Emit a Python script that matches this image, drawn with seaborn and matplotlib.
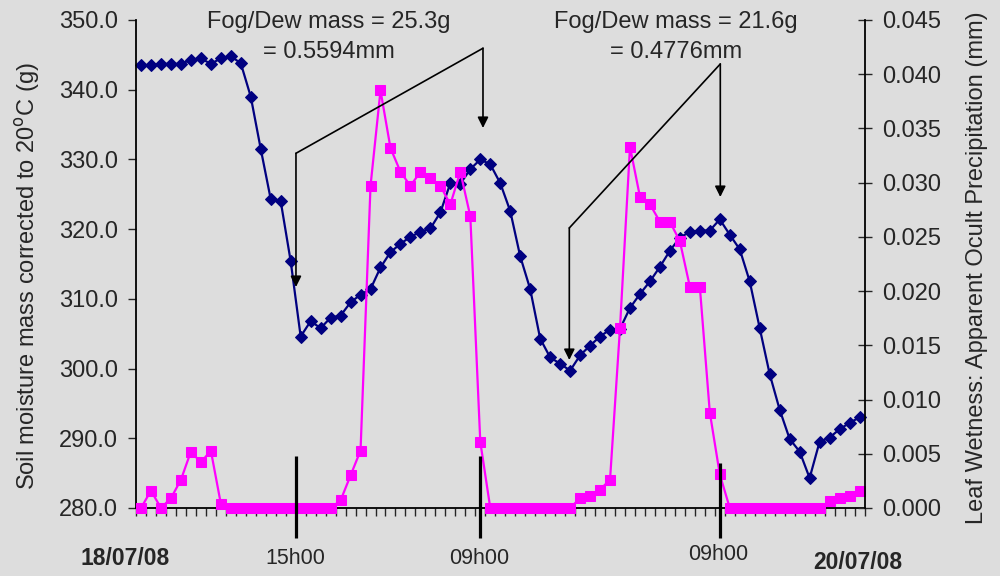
import matplotlib
matplotlib.use("Agg")
import matplotlib.pyplot as plt
import seaborn as sns
import numpy as np
from matplotlib.ticker import FixedLocator, FormatStrFormatter, NullLocator

# Soil moisture mass corrected to 20°C (g), one reading per hour (left axis)
soil_mass = [
    343.5, 343.5, 343.7, 343.7, 343.7, 344.3, 344.5, 343.7, 344.5, 344.8,
    343.8, 339.0, 331.5, 324.3, 324.0, 315.4, 304.6, 306.8, 305.8, 307.3,
    307.6, 309.5, 310.6, 311.4, 314.5, 316.7, 317.9, 318.9, 319.6, 320.1,
    322.4, 326.6, 326.5, 328.6, 330.0, 329.3, 326.6, 322.6, 316.1, 311.4,
    304.3, 301.6, 300.7, 299.7, 301.9, 303.3, 304.6, 305.6, 305.7, 308.7,
    310.7, 312.5, 314.6, 316.9, 318.8, 319.6, 319.8, 319.8, 321.4, 319.2,
    317.1, 312.5, 305.8, 299.2, 294.1, 289.9, 288.1, 284.3, 289.5, 290.1,
    291.3, 292.2, 293.0,
]

# Leaf wetness: apparent occult precipitation (mm) (right axis)
leaf_wetness = [
    0.0, 0.0016, 0.0, 0.0009, 0.0026, 0.0052, 0.0042, 0.0053, 0.0004, 0.0,
    0.0, 0.0, 0.0, 0.0, 0.0, 0.0, 0.0, 0.0, 0.0, 0.0,
    0.0007, 0.0030, 0.0053, 0.0297, 0.0385, 0.0332, 0.0310, 0.0297, 0.0310, 0.0304,
    0.0297, 0.0280, 0.0310, 0.0269, 0.0061, 0.0, 0.0, 0.0, 0.0, 0.0,
    0.0, 0.0, 0.0, 0.0, 0.0009, 0.0011, 0.0017, 0.0026, 0.0166, 0.0333,
    0.0287, 0.0280, 0.0264, 0.0264, 0.0246, 0.0204, 0.0204, 0.0088, 0.0031, 0.0,
    0.0, 0.0, 0.0, 0.0, 0.0, 0.0, 0.0, 0.0, 0.0, 0.0006,
    0.0009, 0.0011, 0.0016,
]

left_ticks = [280, 290, 300, 310, 320, 330, 340, 350]
right_ticks = [0.0, 0.005, 0.010, 0.015, 0.020, 0.025, 0.030, 0.035, 0.040, 0.045]

time_labels = ["18/07/08", "15h00", "09h00", "09h00", "20/07/08"]
fog_labels = [("Fog/Dew mass = 25.3g", "= 0.5594mm"),
              ("Fog/Dew mass = 21.6g", "= 0.4776mm")]

NAVY = "#000080"
MAGENTA = "#ff00ff"
BG = "#dddddd"

sns.set_style("white", rc={"axes.facecolor": BG, "figure.facecolor": BG,
                           "axes.edgecolor": "black"})
plt.rcParams["font.family"] = ["Liberation Sans", "DejaVu Sans"]

fig = plt.figure(figsize=(10, 5.76), dpi=100)
ax = fig.add_axes([0.136, 0.11806, 0.7285, 0.84722])
hours = np.arange(len(soil_mass))

sns.lineplot(x=hours, y=soil_mass, ax=ax, color=NAVY, linewidth=1.6,
             marker="D", markersize=6.2, markeredgecolor=NAVY, clip_on=False)

ax2 = ax.twinx()
sns.lineplot(x=hours, y=leaf_wetness, ax=ax2, color=MAGENTA, linewidth=1.6,
             marker="s", markersize=7.3, markeredgecolor=MAGENTA, clip_on=False)

# axes limits and ticks
ax.set_xlim(-0.5, len(soil_mass) - 0.5)
ax.set_ylim(280, 350)
ax2.set_ylim(0, 0.045)
ax.set_yticks(left_ticks)
ax.yaxis.set_major_formatter(FormatStrFormatter("%.1f"))
ax2.set_yticks(right_ticks)
ax2.yaxis.set_major_formatter(FormatStrFormatter("%.3f"))
ax.xaxis.set_major_locator(NullLocator())
ax.xaxis.set_minor_locator(FixedLocator(np.arange(-0.5, len(soil_mass), 1.0)))

ax.tick_params(axis="y", left=True, direction="out", length=5.8, width=1,
               pad=7, labelsize=17)
ax.tick_params(axis="x", which="minor", bottom=True, direction="out",
               length=5.5, width=1)
ax2.tick_params(axis="y", right=True, direction="inout", length=10, width=1,
                pad=7.5, labelsize=17)

for s in ["top", "right"]:
    ax.spines[s].set_visible(False)
for s in ["top", "left", "bottom"]:
    ax2.spines[s].set_visible(False)
for a in (ax, ax2):
    for sp in a.spines.values():
        sp.set_linewidth(1.3)
ax.set_xlabel("")
ax.set_ylabel("")
ax2.set_ylabel("")

fig.text(0.028, 1 - 276 / 576, "Soil moisture mass corrected to 20$^{\\mathrm{o}}$C (g)",
         rotation=90, ha="center", va="center", fontsize=17)
fig.text(0.9767, 1 - 268 / 576, "Leaf Wetness: Apparent Ocult Precipitation (mm)",
         rotation=90, ha="center", va="center", fontsize=17)

# thick marks at the time labels
for xb, yt in [(15.53, 287.4), (33.93, 287.4), (57.98, 286.4)]:
    ax2.plot([xb, xb], [yt, 275.7], transform=ax.transData, color="black",
             lw=2.3, clip_on=False, solid_capstyle="butt")

xtrans = ax.get_xaxis_transform()
for lab, xl, yl in zip(time_labels, [-1.6, 15.45, 33.85, 57.85, 71.8],
                       [-0.1045, -0.1045, -0.1045, -0.0963, -0.1107]):
    if "/" in lab:
        ax.text(xl, yl, lab, transform=xtrans, ha="center", va="center",
                fontsize=16.5, fontweight="bold")
    else:
        ax.text(xl, yl, lab, transform=xtrans, ha="center", va="center",
                fontsize=15.5)

# fog/dew annotations
arrows = [
    dict(apex=(34.27, 345.95), knee=(15.53, 330.88), tip1=(15.53, 311.7),
         tip2=(34.27, 334.51), text_x=18.8, text_y=(348.81, 344.55)),
    dict(apex=(58.05, 343.69), knee=(42.92, 320.17), tip1=(42.92, 301.23),
         tip2=(58.05, 324.61), text_x=53.6, text_y=(348.81, 344.55)),
]
for (line1, line2), arr in zip(fog_labels, arrows):
    ax2.plot([arr["apex"][0], arr["knee"][0]], [arr["apex"][1], arr["knee"][1]],
             transform=ax.transData, color="black", lw=1.2, clip_on=False)
    for tip, start in [(arr["tip1"], arr["knee"]), (arr["tip2"], arr["apex"])]:
        ax2.annotate("", xy=tip, xytext=start, xycoords=ax.transData,
                     textcoords=ax.transData, annotation_clip=False,
                     arrowprops=dict(arrowstyle="-|>", color="black", lw=1.2,
                                     mutation_scale=16, shrinkA=0, shrinkB=0))
    ax2.text(arr["text_x"], arr["text_y"][0], line1, transform=ax.transData,
             ha="center", va="baseline", fontsize=17)
    ax2.text(arr["text_x"], arr["text_y"][1], line2, transform=ax.transData,
             ha="center", va="baseline", fontsize=17)

ax.set_xlim(-0.5, len(soil_mass) - 0.5)
ax.set_ylim(280, 350)
ax2.set_ylim(0, 0.045)

fig.savefig("out.png", dpi=100, facecolor=BG)
